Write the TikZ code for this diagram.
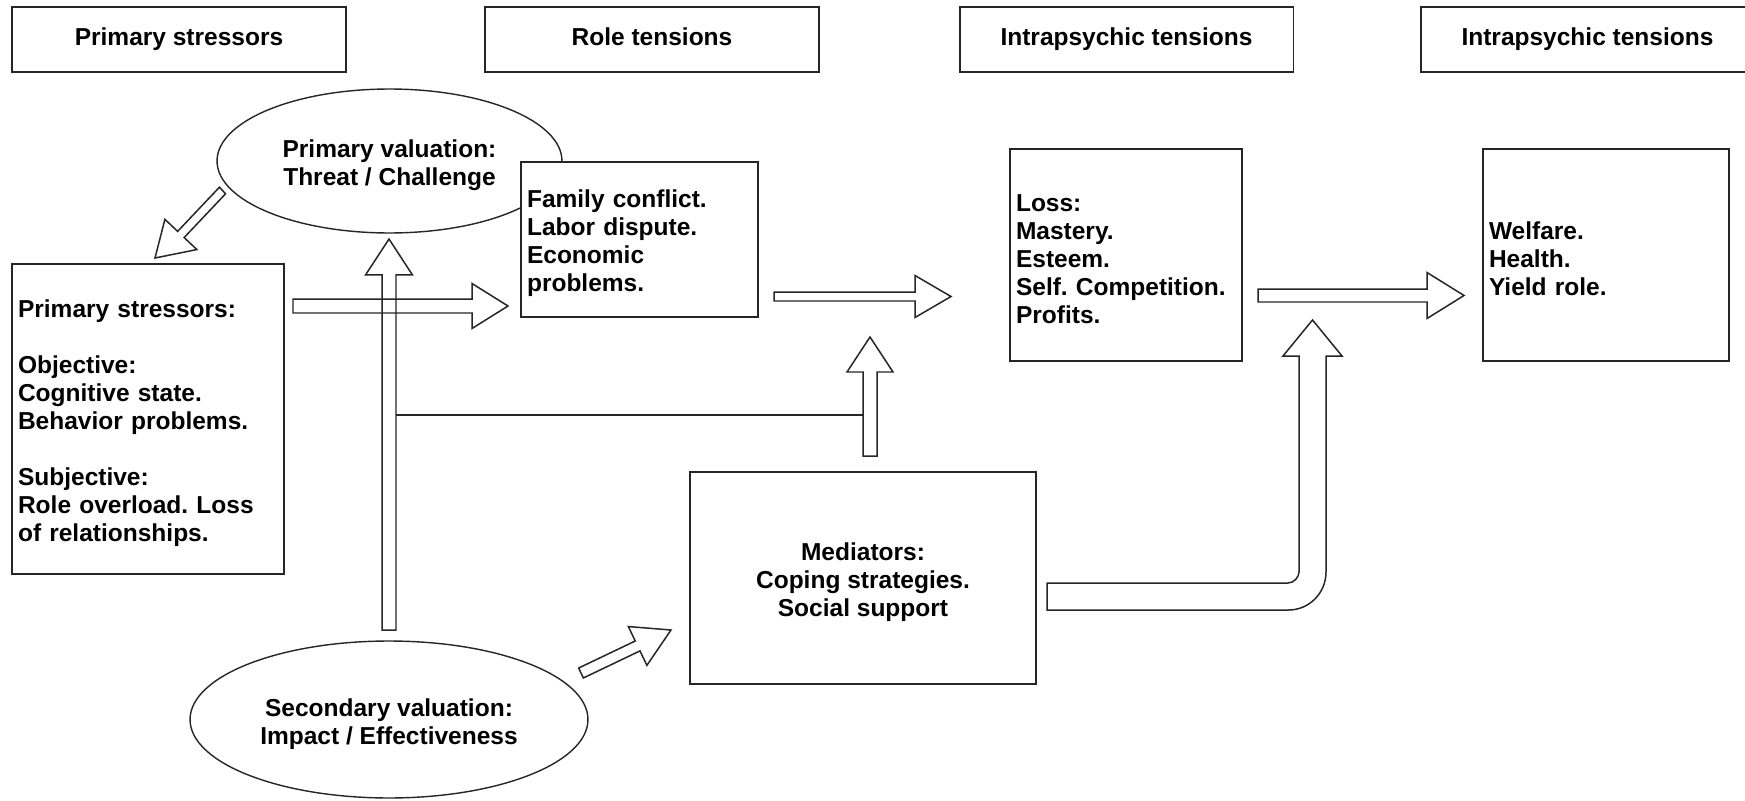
\documentclass[tikz,border=0pt]{standalone}
\usepackage{fontspec}
\setmainfont{Liberation Sans}
\frenchspacing
\usetikzlibrary{shapes.geometric,calc}
\newcommand\tstrut{\rule{0pt}{0.52cm}}
\tikzset{
 every node/.style={font=\fontsize{13.95pt}{15.93pt}\selectfont\bfseries},
 hbox/.style={draw=black!85,line width=1.1pt,rectangle,minimum width=6.68cm,minimum height=1.3cm,inner sep=0pt,fill=white,text height=0.8em,text depth=0.15em},
 tbox/.style={draw=black!85,line width=1.1pt,rectangle,inner xsep=0.12cm,inner ysep=0pt,align=left,fill=white},
 ell/.style={draw=black!85,line width=0.8pt,ellipse,inner sep=0pt,align=center},
 barrow/.style={draw=black!85,line width=0.85pt,line join=miter},
}
\newcommand\blockarrow[5]{%
 \coordinate (#1neck) at ($(#2)!#5!(#1)$);
 \draw[barrow] ($(#1)!#3!90:(#2)$) -- ($(#1neck)!#3!-90:(#1)$) -- ($(#1neck)!#4!-90:(#1)$) -- (#2) -- ($(#1neck)!#4!90:(#1)$) -- ($(#1neck)!#3!90:(#1)$) -- ($(#1)!#3!-90:(#2)$) -- cycle;}
\begin{document}
\begin{tikzpicture}[x=0.02cm,y=-0.02cm]
\clip (0,0) rectangle (1745,801);
\fill[white] (0,0) rectangle (1745,801);
% headers
\node[hbox] (h1) at (179,39.5) {Primary stressors};
\node[hbox] (h2) at (652,39.5) {Role tensions};
\node[hbox] (h3) at (1126.5,39.5) {Intrapsychic tensions};
\node[hbox] (h4) at (1587.5,39.5) {Intrapsychic tensions};
% ellipses
\node[ell, minimum width=6.9cm, minimum height=2.88cm] (pv) at (389.5,161) {\rule{0pt}{0.54cm}Primary valuation:\\Threat / Challenge};
\node[ell, minimum width=7.96cm, minimum height=3.14cm] (sv) at (389,719.5) {\rule{0pt}{0.54cm}Secondary valuation:\\Impact / Effectiveness};
% boxes
\node[tbox, text width=5.2cm, minimum height=6.2cm] (ps) at (148,419) {\tstrut Primary stressors:\\[15.93pt]Objective:\\Cognitive state.\\Behavior problems.\\[15.93pt]Subjective:\\Role overload. Loss\\of relationships.};
\node[tbox, text width=4.5cm, minimum height=3.1cm] (fam) at (639.5,239.5) {\tstrut Family conflict.\\Labor dispute.\\Economic\\problems.};
\node[tbox, text width=4.4cm, minimum height=4.24cm] (loss) at (1126,255) {\tstrut Loss:\\Mastery.\\Esteem.\\Self. Competition.\\Profits.};
\node[tbox, text width=4.68cm, minimum height=4.24cm] (wel) at (1606,255) {\tstrut Welfare.\\Health.\\Yield role.};
\node[tbox, align=center, minimum width=6.92cm, minimum height=4.24cm] (med) at (863,578) {\tstrut Mediators:\\Coping strategies.\\Social support};
% arrow end points
\coordinate (a1s) at (222.5,190.5); \coordinate (a1e) at (155,258);
\coordinate (a2s) at (293,306);     \coordinate (a2e) at (508,306);
\coordinate (a3s) at (389,630);     \coordinate (a3e) at (389,239);
\coordinate (a4s) at (774,296.5);   \coordinate (a4e) at (951,296.5);
\coordinate (a5s) at (870,456);     \coordinate (a5e) at (870,337);
\coordinate (a6s) at (1258,295.5);  \coordinate (a6e) at (1464,295.5);
\coordinate (a7s) at (581,673);     \coordinate (a7e) at (671,630);
\coordinate (ln1) at (396,415);     \coordinate (ln2) at (863,415);
% block arrows
\blockarrow{a1s}{a1e}{0.09cm}{0.44cm}{0.7cm}
\blockarrow{a3s}{a3e}{0.14cm}{0.47cm}{0.72cm}
\blockarrow{a2s}{a2e}{0.14cm}{0.45cm}{0.72cm}
\blockarrow{a4s}{a4e}{0.09cm}{0.42cm}{0.72cm}
\blockarrow{a5s}{a5e}{0.14cm}{0.46cm}{0.7cm}
\blockarrow{a6s}{a6e}{0.13cm}{0.46cm}{0.74cm}
\blockarrow{a7s}{a7e}{0.11cm}{0.43cm}{0.74cm}
\draw[barrow] (ln1) -- (ln2);
% bent arrow from mediators
\draw[barrow] (1047,583) -- (1288,583) .. controls (1294.1,583) and (1299,576.9) .. (1299,572) -- (1299,356) -- (1283,356) -- (1312.5,320) -- (1342,356) -- (1326,356) -- (1326,572) .. controls (1326,593) and (1309.2,610) .. (1288.5,610) -- (1047,610) -- cycle;
\end{tikzpicture}
\end{document}
